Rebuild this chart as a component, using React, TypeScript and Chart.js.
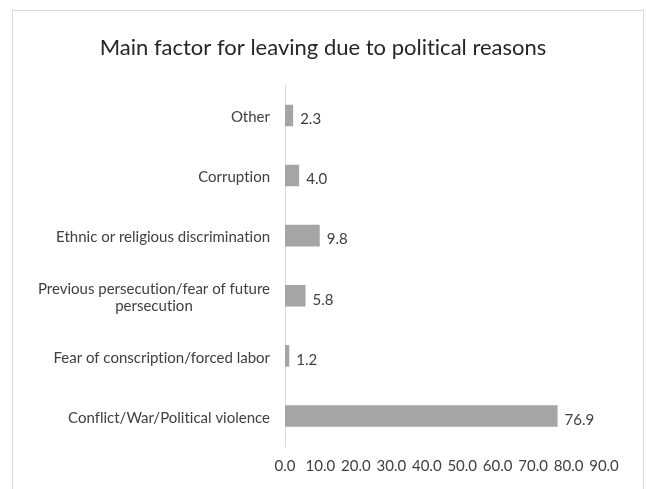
import React, { useEffect, useRef } from "react";
import { Chart, registerables } from "chart.js";

Chart.register(...registerables);

const TITLE = "Main factor for leaving due to political reasons";
const categories: string[][] = [
  ["Other"],
  ["Corruption"],
  ["Ethnic or religious discrimination"],
  ["Previous persecution/fear of future", "persecution"],
  ["Fear of conscription/forced labor"],
  ["Conflict/War/Political violence"],
];
const values: number[] = [2.3, 4.0, 9.8, 5.8, 1.2, 76.9];
const X_MIN = 0;
const X_MAX = 90;
const X_STEP = 10;

const FONT = "Lato, 'Liberation Sans', Arial, sans-serif";
const TEXT = "#404040";
const LABEL_SIZE = 15;

export default function App() {
  const ref = useRef<HTMLCanvasElement | null>(null);
  useEffect(() => {
    document.body.style.margin = "0";
    const canvas = ref.current!;
    const framePlugin = {
      id: "frame",
      beforeDraw(chart: any) {
        const ctx = chart.ctx;
        try {
          (ctx as any).textRendering = "optimizeSpeed";
        } catch (e) {}
        ctx.save();
        ctx.fillStyle = "#ffffff";
        ctx.fillRect(0, 0, chart.width, chart.height);
        ctx.strokeStyle = "#d9d9d9";
        ctx.lineWidth = 1;
        ctx.strokeRect(12.5, 10.5, 631, 520);
        ctx.restore();
      },
    };
    const labelPlugin = {
      id: "labels",
      afterDraw(chart: any) {
        const ctx = chart.ctx;
        const y = chart.scales.y;
        ctx.save();
        ctx.font = `${LABEL_SIZE}px ${FONT}`;
        ctx.fillStyle = TEXT;
        ctx.textBaseline = "middle";
        chart.data.labels.forEach((lab: string[], i: number) => {
          const cy = y.getPixelForValue(i) + 2;
          const widths = lab.map((l) => ctx.measureText(l).width);
          const maxW = Math.max(...widths);
          const right = y.right - 15;
          const lh = 17;
          const startY = cy - ((lab.length - 1) * lh) / 2;
          lab.forEach((l, j) => {
            ctx.textAlign = "center";
            ctx.fillText(l, right - maxW / 2, startY + j * lh);
          });
        });
        const meta = chart.getDatasetMeta(0);
        meta.data.forEach((bar: any, i: number) => {
          const v = chart.data.datasets[0].data[i];
          ctx.textAlign = "left";
          ctx.fillText(v.toFixed(1), bar.x + 7, bar.y + 4);
        });
        ctx.restore();
      },
    };
    const chart = new Chart(canvas, {
      type: "bar",
      data: {
        labels: categories as any,
        datasets: [
          {
            data: values,
            backgroundColor: "#a5a5a5",
            barPercentage: 0.36,
            categoryPercentage: 1,
          },
        ],
      },
      options: {
        indexAxis: "y",
        animation: false,
        responsive: false,
        layout: { padding: { left: 42, right: 42, top: 0, bottom: 0 } },
        plugins: {
          legend: { display: false },
          tooltip: { enabled: false },
          title: {
            display: true,
            text: TITLE,
            color: "#262626",
            font: { family: FONT, size: 22, weight: "normal" },
            padding: { top: 35, bottom: 24 },
          },
        },
        scales: {
          x: {
            min: X_MIN,
            max: X_MAX,
            grid: { display: false, drawTicks: false },
            border: { display: false },
            ticks: {
              stepSize: X_STEP,
              color: TEXT,
              font: { family: FONT, size: LABEL_SIZE },
              padding: 11,
              maxRotation: 0,
              autoSkip: false,
              callback: (v: any) => Number(v).toFixed(1),
            },
            afterFit: (s: any) => {
              s.height = 43;
            },
          },
          y: {
            grid: { display: false, drawTicks: false },
            border: { display: true, color: "#d9d9d9" },
            ticks: { display: false },
            afterFit: (s: any) => {
              s.width = 243;
            },
          },
        },
      },
      plugins: [framePlugin, labelPlugin],
    });
    return () => chart.destroy();
  }, []);
  return <canvas ref={ref} width={646} height={489} style={{ display: "block" }} />;
}
